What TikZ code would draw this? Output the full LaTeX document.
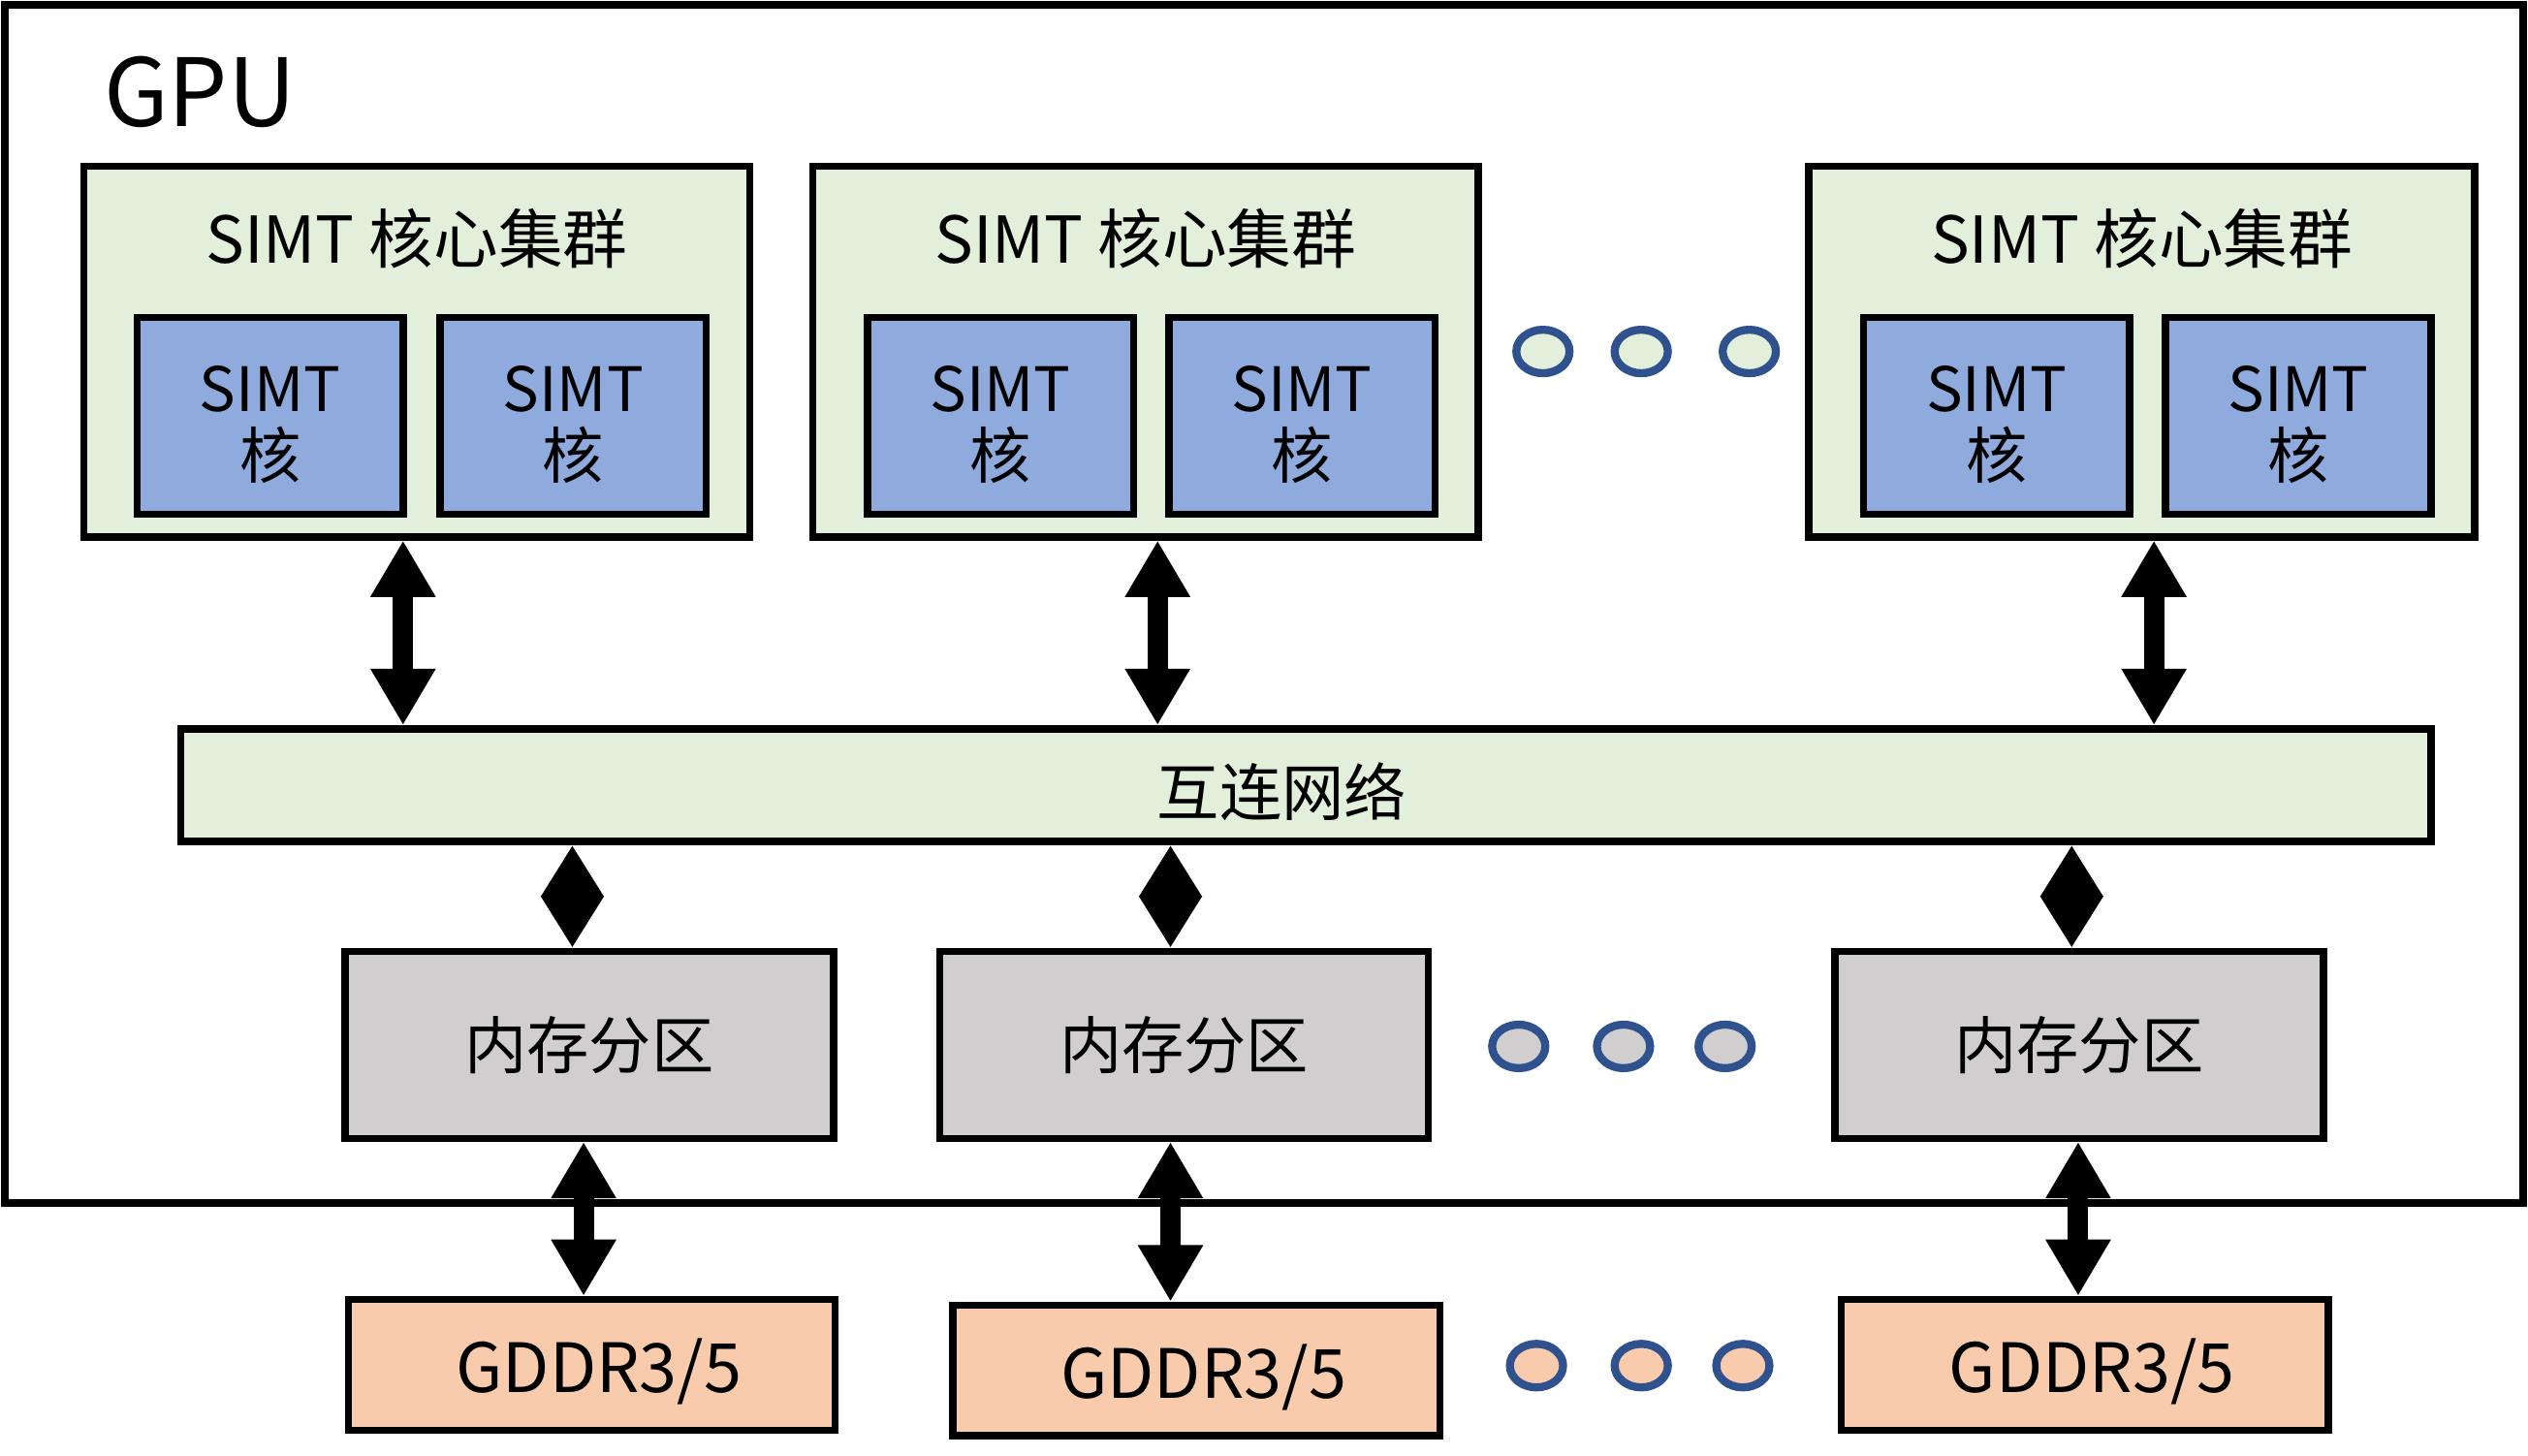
\documentclass[tikz,border=0pt]{standalone}
\usepackage{fontspec}
\setmainfont{Noto Sans CJK SC}
\usetikzlibrary{arrows.meta,shapes.geometric}
\definecolor{clustergreen}{HTML}{E2EFDA}
\definecolor{coreblue}{HTML}{8FAADC}
\definecolor{memgray}{HTML}{D0CECE}
\definecolor{gddrpeach}{HTML}{F8CBAD}
\definecolor{dotblue}{HTML}{2F528F}
\begin{document}
\begin{tikzpicture}[x=0.1mm,y=-0.1mm,
  box/.style={draw, line width=0.45mm, inner sep=0pt},
  cluster/.style={box, fill=clustergreen, minimum width=41.3mm, minimum height=23mm},
  core/.style={box, fill=coreblue, minimum width=16.5mm, minimum height=12.2mm,
    label={[yshift=-0.55mm, align=center, font=\fontsize{10.8pt}{11.8pt}\selectfont]center:#1}},
  memory/.style={box, fill=memgray, minimum width=30.3mm, minimum height=11.6mm, font=\fontsize{11pt}{13pt}\selectfont},
  gddr/.style={box, fill=gddrpeach, minimum width=30.2mm, minimum height=8.1mm,
    label={[xshift=0.45mm, yshift=-0.4mm, font=\fontsize{12pt}{14pt}\selectfont]center:GDDR3/5}},
  dot/.style={ellipse, draw=dotblue, line width=0.5mm, minimum width=3.3mm, minimum height=2.7mm, inner sep=0pt},
  biarrow/.style={line width=1.26mm, {Triangle[width=3.8mm,length=3.5mm]}-{Triangle[width=3.8mm,length=3.5mm]}},
  diamond arrow/.style={line width=1.26mm, {Triangle[width=3.7mm,length=3.2mm]}-{Triangle[width=3.7mm,length=3.2mm]}}]
\useasboundingbox (0,0) rectangle (1568,903);
\node[box, minimum width=156.2mm, minimum height=74.3mm] (gpu) at (784,374.5) {};
\node[font=\fontsize{16.6pt}{19pt}\selectfont] (gputitle) at (124,57) {GPU};

\node[cluster] (c1) at (258.5,218) {};
\node[cluster] (c2) at (710.5,218) {};
\node[cluster] (c3) at (1328.5,218) {};
\node[font=\fontsize{11.4pt}{13pt}\selectfont] (c1t) at (258.5,148) {SIMT 核心集群};
\node[font=\fontsize{11.4pt}{13pt}\selectfont] (c2t) at (710.5,148) {SIMT 核心集群};
\node[font=\fontsize{11.4pt}{13pt}\selectfont] (c3t) at (1328.5,148) {SIMT 核心集群};
\node[core={SIMT\\核}] (c1a) at (167.5,258) {};
\node[core={SIMT\\核}] (c1b) at (355.5,258) {};
\node[core={SIMT\\核}] (c2a) at (620.5,258) {};
\node[core={SIMT\\核}] (c2b) at (807.5,258) {};
\node[core={SIMT\\核}] (c3a) at (1238.5,258) {};
\node[core={SIMT\\核}] (c3b) at (1425.5,258) {};

\node[box, fill=clustergreen, minimum width=139.6mm, minimum height=7mm,
  label={[xshift=-1.5mm, yshift=-0.4mm, font=\fontsize{11pt}{13pt}\selectfont]center:互连网络}] (bus) at (810,487) {};

\node[memory] (m1) at (365.5,648) {内存分区};
\node[memory] (m2) at (734.5,648) {内存分区};
\node[memory] (m3) at (1289.5,648) {内存分区};

\node[gddr] (g1) at (367,846.5) {};
\node[gddr] (g2) at (742,850) {};
\node[gddr] (g3) at (1293,846.5) {};

\foreach \x in {957,1018,1085} \node[dot, fill=clustergreen] at (\x,218) {};
\foreach \x in {942,1007,1070} \node[dot, fill=memgray] at (\x,649) {};
\foreach \x in {953,1018,1081} \node[dot, fill=gddrpeach] at (\x,847) {};

\draw[biarrow] ([xshift=-0.85mm]c1.south) -- ([xshift=-0.85mm]c1.south |- bus.north);
\draw[biarrow] ([xshift=0.75mm]c2.south) -- ([xshift=0.75mm]c2.south |- bus.north);
\draw[biarrow] ([xshift=0.75mm]c3.south) -- ([xshift=0.75mm]c3.south |- bus.north);

\draw[diamond arrow] ([xshift=-1.05mm]m1.north |- bus.south) -- ([xshift=-1.05mm]m1.north);
\draw[diamond arrow] ([xshift=-0.85mm]m2.north |- bus.south) -- ([xshift=-0.85mm]m2.north);
\draw[diamond arrow] ([xshift=-0.45mm]m3.north |- bus.south) -- ([xshift=-0.45mm]m3.north);

\draw[biarrow] ([xshift=-0.5mm]g1.north |- m1.south) -- ([xshift=-0.5mm]g1.north);
\draw[biarrow] ([xshift=-1.6mm]g2.north |- m2.south) -- ([xshift=-1.6mm]g2.north);
\draw[biarrow] ([xshift=-0.4mm]g3.north |- m3.south) -- ([xshift=-0.4mm]g3.north);
\end{tikzpicture}
\end{document}
